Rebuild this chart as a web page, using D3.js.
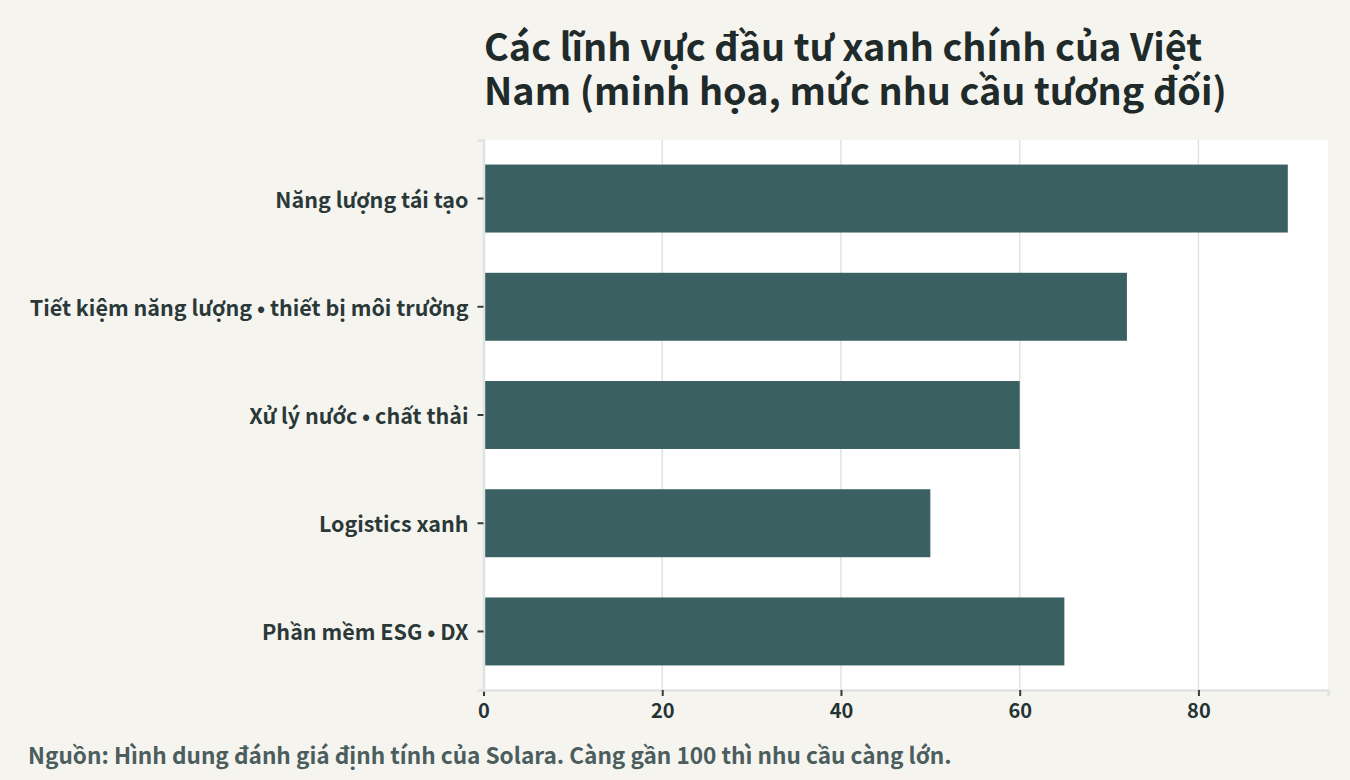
<!DOCTYPE html>
<html><head><meta charset="utf-8">
<script src="https://cdn.jsdelivr.net/npm/d3@7"></script>
<style>
html,body{margin:0;padding:0;background:#f5f4ef;}
text{font-family:"Noto Sans CJK JP","Noto Sans CJK SC","Noto Sans",sans-serif;font-weight:700;}
</style></head>
<body><svg id="c" width="1350" height="780"></svg>
<script>
const categories = ["Năng lượng tái tạo","Tiết kiệm năng lượng • thiết bị môi trường","Xử lý nước • chất thải","Logistics xanh","Phần mềm ESG • DX"];
const values = [90, 72, 60, 50, 65];
const xTicks = [0, 20, 40, 60, 80];
const titleLines = ["Các lĩnh vực đầu tư xanh chính của Việt","Nam (minh họa, mức nhu cầu tương đối)"];
const footnote = "Nguồn: Hình dung đánh giá định tính của Solara. Càng gần 100 thì nhu cầu càng lớn.";

const svg = d3.select("#c");
const m = {left:483.5, right:1328, top:140, bottom:690};
const x = d3.scaleLinear().domain([0, d3.max(values)*1.05]).range([m.left, m.right]);
const y = d3.scaleBand().domain(categories).range([m.top, m.bottom]).paddingInner(0.372).paddingOuter(0.227);

svg.append("rect").attr("x",m.left).attr("y",m.top).attr("width",m.right-m.left).attr("height",m.bottom-m.top).attr("fill","#ffffff");

svg.append("g").selectAll("line").data(xTicks.slice(1)).join("line")
  .attr("x1",d=>x(d)).attr("x2",d=>x(d)).attr("y1",m.top).attr("y2",m.bottom)
  .attr("stroke","#dfe3e2").attr("stroke-width",1.5);

svg.append("g").selectAll("rect").data(values).join("rect")
  .attr("x",x(0)).attr("y",(d,i)=>y(categories[i])).attr("width",d=>x(d)-x(0)).attr("height",y.bandwidth())
  .attr("fill","#3a6061");

// axes
const ax = svg.append("g").attr("transform",`translate(0,${m.bottom})`).call(d3.axisBottom(x).tickValues(xTicks).tickSize(6).tickPadding(8));
ax.select(".domain").attr("stroke","#dfe3e2").attr("stroke-width",2.5);
ax.selectAll(".tick line").attr("stroke","#333d3d").attr("stroke-width",2);
ax.selectAll(".tick text").attr("fill","#253333").style("font-size","20px");

const ay = svg.append("g").attr("transform",`translate(${m.left},0)`).call(d3.axisLeft(y).tickSize(6).tickPadding(9));
ay.select(".domain").attr("stroke","#dfe3e2").attr("stroke-width",2.5);
ay.selectAll(".tick line").attr("stroke","#333d3d").attr("stroke-width",2);
ay.selectAll(".tick text").attr("fill","#2a3838").attr("dy","0.42em").style("font-size","21.5px");

svg.append("g").selectAll("text").data(titleLines).join("text")
  .attr("x",484).attr("y",(d,i)=>61+i*43.5).text(d=>d)
  .attr("fill","#1f2a2a").style("font-size","37.8px");

svg.append("text").attr("x",28).attr("y",764).text(footnote)
  .attr("fill","#4b5d5d").style("font-size","22.6px");
</script></body></html>
